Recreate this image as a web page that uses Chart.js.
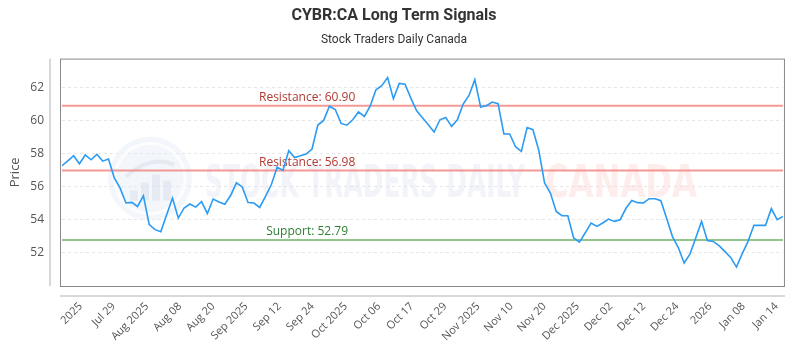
<!DOCTYPE html>
<html lang="en">
<head>
  <meta charset="UTF-8">
  <title>CYBR:CA Long Term Signals</title>
  <script src="https://cdn.jsdelivr.net/npm/chart.js"></script>
  <style>
    html, body { margin: 0; padding: 0; background: #fff; }
    #wrap { width: 800px; height: 350px; }
  </style>
</head>
<body>
<div id="wrap"><canvas id="signalChart"></canvas></div>
<script>
  // daily closes
  const prices = [
    57.27, 57.57, 57.88, 57.39, 57.92, 57.63, 57.96, 57.55, 57.68, 56.53,
    55.92, 55.02, 55.06, 54.81, 55.46, 53.71, 53.41, 53.29, 54.31, 55.32,
    54.11, 54.72, 54.96, 54.77, 55.10, 54.39, 55.26, 55.08, 54.95, 55.47,
    56.24, 55.99, 55.05, 55.02, 54.75, 55.42, 56.12, 57.19, 56.99, 58.18,
    57.77, 57.88, 57.98, 58.28, 59.73, 60.01, 60.87, 60.67, 59.83, 59.72,
    60.05, 60.52, 60.25, 60.87, 61.86, 62.11, 62.60, 61.32, 62.25, 62.20,
    61.36, 60.59, 60.17, 59.75, 59.31, 60.05, 60.19, 59.65, 60.05, 61.00,
    61.52, 62.47, 60.82, 60.90, 61.12, 61.02, 59.19, 59.19, 58.42, 58.14,
    59.58, 59.45, 58.21, 56.23, 55.62, 54.51, 54.25, 54.25, 52.91, 52.66,
    53.22, 53.81, 53.61, 53.81, 54.05, 53.91, 54.01, 54.70, 55.17, 55.04,
    55.02, 55.28, 55.28, 55.16, 54.08, 52.99, 52.33, 51.40, 51.93, 52.91,
    53.91, 52.75, 52.70, 52.44, 52.10, 51.73, 51.15, 51.96, 52.70, 53.67,
    53.67, 53.67, 54.68, 54.01, 54.21
  ];

  const tickLabels = [
    '2025', 'Jul 29', 'Aug 2025', 'Aug 08', 'Aug 20', 'Sep 2025', 'Sep 12',
    'Sep 24', 'Oct 2025', 'Oct 06', 'Oct 17', 'Oct 29', 'Nov 2025', 'Nov 10',
    'Nov 20', 'Dec 2025', 'Dec 02', 'Dec 12', 'Dec 24', '2026', 'Jan 08', 'Jan 14'
  ];
  const firstTick = 3.2;   // index of the first labelled tick
  const tickStep = 5.7;    // indices between labelled ticks

  const levelValues = [60.90, 56.98, 52.79];
  const levelNames = ['Resistance', 'Resistance', 'Support'];
  const levelLine = ['rgba(240,120,115,0.75)', 'rgba(240,120,115,0.75)', 'rgba(110,180,100,0.75)'];
  const levelText = ['#b03a32', '#b03a32', '#2e7d32'];

  const lo = Math.min(...prices), hi = Math.max(...prices);
  const pad = (hi - lo) * 0.1;

  Chart.defaults.font.family = "'Open Sans', sans-serif";
  Chart.defaults.color = '#555';

  function drawWatermark(ctx, area) {
    const cx = area.left + 88, cy = area.top + 120;
    ctx.save();
    ctx.fillStyle = 'rgba(225,232,243,0.4)';
    ctx.beginPath(); ctx.arc(cx, cy, 42, 0, Math.PI * 2); ctx.fill();
    ctx.strokeStyle = 'rgba(255,255,255,0.8)';
    ctx.lineWidth = 3;
    ctx.beginPath(); ctx.arc(cx, cy, 35, 0, Math.PI * 2); ctx.stroke();
    ctx.fillStyle = 'rgba(210,218,233,0.4)';
    [[-20, 10], [-9, 18], [2, 26], [13, 20]].forEach(([dx, h]) => {
      ctx.fillRect(cx + dx, cy + 22 - h, 8, h);
    });
    ctx.strokeStyle = 'rgba(210,218,233,0.45)';
    ctx.lineWidth = 4;
    ctx.beginPath(); ctx.moveTo(cx - 24, cy - 2); ctx.quadraticCurveTo(cx, cy - 24, cx + 24, cy - 14); ctx.stroke();

    ctx.font = "bold 44px 'DejaVu Sans Condensed', 'Liberation Sans Narrow', sans-serif";
    ctx.textBaseline = 'alphabetic';
    ctx.textAlign = 'left';
    const words = [['STOCK TRADERS DAILY', 'rgba(220,227,240,0.38)', area.left + 143, 320],
                   ['CANADA', 'rgba(252,210,210,0.4)', area.left + 483, 152]];
    words.forEach(([txt, col, x, w]) => {
      const m = ctx.measureText(txt).width;
      ctx.save();
      ctx.translate(x, cy + 18);
      ctx.scale(w / m, 1);
      ctx.fillStyle = col;
      ctx.fillText(txt, 0, 0);
      ctx.restore();
    });
    ctx.restore();
  }

  const framePlugin = {
    id: 'frame',
    beforeDatasetsDraw(chart) {
      const { ctx, chartArea: a, scales } = chart;
      drawWatermark(ctx, a);

      // support / resistance levels
      levelValues.forEach((v, i) => {
        const y = scales.y.getPixelForValue(v);
        ctx.save();
        ctx.strokeStyle = levelLine[i];
        ctx.lineWidth = 2;
        ctx.beginPath(); ctx.moveTo(a.left, y); ctx.lineTo(a.right, y); ctx.stroke();
        ctx.font = "12px 'Open Sans', sans-serif";
        ctx.fillStyle = levelText[i];
        ctx.textAlign = 'center';
        ctx.textBaseline = 'bottom';
        ctx.fillText(levelNames[i] + ': ' + v.toFixed(2), a.left + a.width * 0.34, y - 2);
        ctx.restore();
      });

      // plot frame and the detached axis lines
      ctx.save();
      ctx.strokeStyle = '#888';
      ctx.lineWidth = 1;
      ctx.strokeRect(a.left - 1.5, a.top + 0.5, a.width + 3, a.height);
      ctx.strokeStyle = '#ccc';
      ctx.lineWidth = 1.5;
      ctx.beginPath();
      ctx.moveTo(a.left - 12, a.top); ctx.lineTo(a.left - 12, a.bottom);
      ctx.moveTo(a.left - 2, a.bottom + 10); ctx.lineTo(a.right + 2, a.bottom + 10);
      ctx.stroke();
      ctx.restore();
    }
  };

  new Chart(document.getElementById('signalChart'), {
    type: 'line',
    data: {
      datasets: [{
        label: 'CYBR:CA',
        data: prices.map((p, i) => ({ x: i, y: p })),
        borderColor: '#2b9bf4',
        borderWidth: 1.6,
        pointRadius: 0,
        tension: 0,
        fill: false
      }]
    },
    options: {
      responsive: true,
      maintainAspectRatio: false,
      animation: false,
      layout: { padding: { left: 0, right: 12, top: 0, bottom: 0 } },
      plugins: {
        legend: { display: false },
        tooltip: { enabled: false },
        title: {
          display: true,
          text: 'CYBR:CA Long Term Signals',
          color: '#333',
          font: { family: 'Roboto', size: 16, weight: 'bold' },
          padding: { top: 6, bottom: 6 }
        },
        subtitle: {
          display: true,
          text: 'Stock Traders Daily Canada',
          color: '#333',
          font: { family: 'Roboto', size: 12 },
          padding: { top: 2, bottom: 11 }
        }
      },
      scales: {
        x: {
          type: 'linear',
          min: 0,
          max: prices.length - 1,
          afterBuildTicks(scale) {
            scale.ticks = tickLabels.map((_, k) => ({ value: firstTick + k * tickStep }));
          },
          afterFit(scale) { scale.height = 64; },
          grid: { display: false, drawTicks: false },
          border: { display: false },
          ticks: {
            autoSkip: false,
            maxRotation: 45,
            minRotation: 45,
            padding: 14,
            font: { size: 11 },
            callback: (v, i) => tickLabels[i]
          }
        },
        y: {
          min: lo - pad,
          max: hi + pad,
          afterFit(scale) { scale.width = 62; },
          grid: { color: '#e6e6e6', drawTicks: false },
          border: { display: false, dash: [3, 3] },
          title: {
            display: true,
            text: 'Price',
            color: '#555',
            font: { size: 13 },
            padding: { top: 7, bottom: 0 }
          },
          ticks: {
            stepSize: 2,
            includeBounds: false,
            padding: 18,
            font: { size: 12 }
          }
        }
      }
    },
    plugins: [framePlugin]
  });
</script>
</body>
</html>
